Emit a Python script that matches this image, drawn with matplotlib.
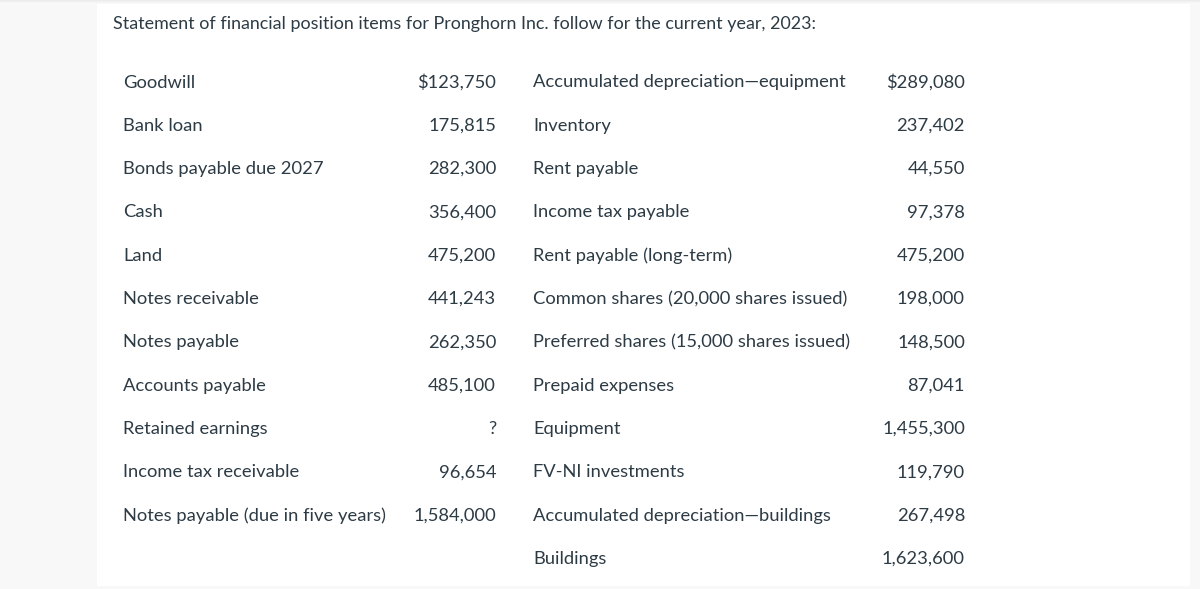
import matplotlib.pyplot as plt
from matplotlib.patches import Rectangle

title = "Statement of financial position items for Pronghorn Inc. follow for the current year, 2023:"

left_items = [
    "Goodwill",
    "Bank loan",
    "Bonds payable due 2027",
    "Cash",
    "Land",
    "Notes receivable",
    "Notes payable",
    "Accounts payable",
    "Retained earnings",
    "Income tax receivable",
    "Notes payable (due in five years)",
]
left_values = [
    "$123,750", "175,815", "282,300", "356,400", "475,200", "441,243",
    "262,350", "485,100", "?", "96,654", "1,584,000",
]

right_items = [
    "Accumulated depreciation\u2014equipment",
    "Inventory",
    "Rent payable",
    "Income tax payable",
    "Rent payable (long-term)",
    "Common shares (20,000 shares issued)",
    "Preferred shares (15,000 shares issued)",
    "Prepaid expenses",
    "Equipment",
    "FV-NI investments",
    "Accumulated depreciation\u2014buildings",
    "Buildings",
]
right_values = [
    "$289,080", "237,402", "44,550", "97,378", "475,200", "198,000",
    "148,500", "87,041", "1,455,300", "119,790", "267,498", "1,623,600",
]

plt.rcParams["font.family"] = ["Lato", "DejaVu Sans"]
text_color = "#2d3b45"
fs = 13.2

fig = plt.figure(figsize=(12, 5.89), dpi=100, facecolor="#f8f8f8")
ax = fig.add_axes([0, 0, 1, 1])
ax.set_xlim(0, 1200)
ax.set_ylim(589, 0)
ax.axis("off")

# white content panel
ax.add_patch(Rectangle((97, 0), 1093, 586, facecolor="white", edgecolor="none"))
# faint top shadow
for i, c in enumerate(["#ececec", "#f1f1f1", "#f5f5f5", "#f9f9f9"]):
    ax.add_patch(Rectangle((0, i), 1200, 1, facecolor=c, edgecolor="none"))

ax.text(113, 24, title, fontsize=12.9, color=text_color, va="center", ha="left")

y0 = 82.5
step = 43.3
for i, (lab, val) in enumerate(zip(left_items, left_values)):
    y = y0 + i * step
    ax.text(123, y, lab, fontsize=fs, color=text_color, va="center", ha="left")
    ax.text(496, y, val, fontsize=fs, color=text_color, va="center", ha="right")

for i, (lab, val) in enumerate(zip(right_items, right_values)):
    y = y0 + i * step
    ax.text(533, y, lab, fontsize=fs, color=text_color, va="center", ha="left")
    ax.text(965, y, val, fontsize=fs, color=text_color, va="center", ha="right")

fig.savefig("out.png", dpi=100, facecolor=fig.get_facecolor())
